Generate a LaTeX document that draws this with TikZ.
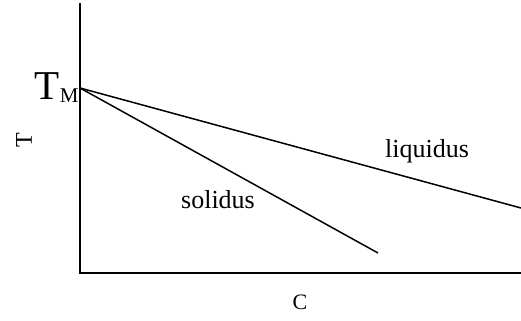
\documentclass[tikz,border=0pt]{standalone}
\usepackage{fontspec}
\setmainfont{Liberation Serif}
\usetikzlibrary{positioning,calc}

\begin{document}
\begin{tikzpicture}[
    x=0.5pt, y=-0.5pt,
    axis/.style ={line width=0.85pt},
    curve/.style={line width=0.75pt},
    lbl/.style  ={font=\fontsize{13}{15}\selectfont, inner sep=0pt},
]
\useasboundingbox (0,0) rectangle (521,321);

% axes
\coordinate (top)    at (80,3);
\coordinate (origin) at (80,273);
\coordinate (xend)   at (521,273);
\draw[axis] (top) -- (origin) -- (xend);

% melting point and the two lines
\coordinate (tm)     at (80,88);
\coordinate (liqend) at (521,208);
\coordinate (solend) at (378,253);
\draw[curve] (tm) -- (liqend);
\draw[curve] (tm) -- (solend);

\node[inner sep=0pt, anchor=base east] (tmlbl) at (79,99)
      {\fontsize{20.5}{22}\selectfont T\raisebox{-1.8pt}{\fontsize{10.5}{12}\selectfont M}};
\node[lbl, anchor=base] (liq) at (427,157) {liquidus};
\node[lbl, anchor=base] (sol) at (218,208) {solidus};
\node[inner sep=0pt, rotate=90, font=\fontsize{12}{14}\selectfont] (tax) at (24,140) {T};
\node[inner sep=0pt, font=\fontsize{11}{13}\selectfont] (cax) at (300,302) {C};

\end{tikzpicture}
\end{document}
